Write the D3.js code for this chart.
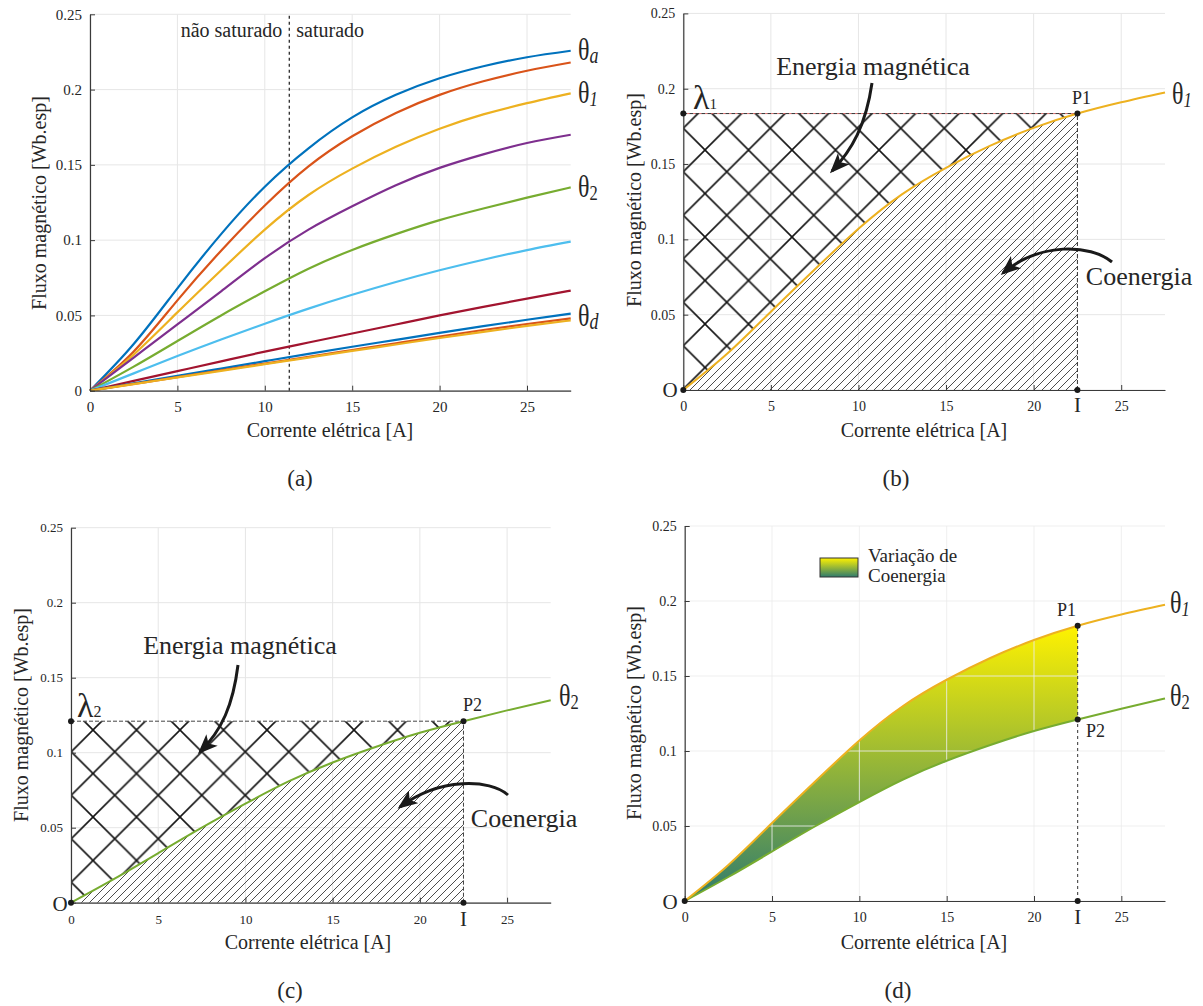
<!DOCTYPE html>
<html>
<head>
<meta charset="utf-8">
<script src="https://cdn.jsdelivr.net/npm/d3@7"></script>
<style>
  body { margin: 0; background: #fff; }
  svg, text { font-family: "Liberation Serif", "DejaVu Serif", "Noto Serif", Times, serif; }
  text { fill: #262626; }
</style>
</head>
<body>
<div id="chart"></div>
<script>
// current [A] where flux values were read
const current = [0, 2.5, 5, 7.5, 10, 12.5, 15, 17.5, 20, 22.5, 25, 27.5];

// flux curves [Wb.esp], one per rotor position (a)
const fluxThetaA  = [0, 0.031, 0.068, 0.104, 0.1355, 0.161, 0.1815, 0.1965, 0.2075, 0.2155, 0.2215, 0.2258];
const fluxOrange  = [0, 0.026, 0.060, 0.093, 0.123, 0.149, 0.169, 0.1845, 0.1965, 0.2055, 0.2125, 0.218];
const fluxTheta1  = [0, 0.024, 0.052, 0.080, 0.107, 0.130, 0.1475, 0.162, 0.174, 0.1835, 0.191, 0.1975];
const fluxPurple  = [0, 0.022, 0.044, 0.066, 0.088, 0.107, 0.1225, 0.1365, 0.148, 0.157, 0.1645, 0.170];
const fluxTheta2  = [0, 0.016, 0.033, 0.050, 0.066, 0.081, 0.0935, 0.104, 0.1133, 0.121, 0.1282, 0.135];
const fluxCyan    = [0, 0.0115, 0.023, 0.034, 0.0445, 0.0545, 0.0637, 0.0722, 0.080, 0.087, 0.0934, 0.099];
const fluxDarkRed = [0, 0.0065, 0.013, 0.0195, 0.026, 0.032, 0.038, 0.044, 0.050, 0.0557, 0.0612, 0.0665];
const fluxBlue2   = [0, 0.0049, 0.0098, 0.0147, 0.0196, 0.0245, 0.0292, 0.0338, 0.0384, 0.0429, 0.0471, 0.0512];
const fluxOrange2 = [0, 0.0045, 0.009, 0.0136, 0.018, 0.0225, 0.027, 0.0315, 0.036, 0.0403, 0.0443, 0.048];
const fluxThetaD  = [0, 0.0044, 0.0088, 0.0132, 0.0176, 0.022, 0.0264, 0.0307, 0.035, 0.0391, 0.043, 0.0467];

const seriesA = [fluxThetaA, fluxOrange, fluxTheta1, fluxPurple, fluxTheta2, fluxCyan, fluxDarkRed, fluxBlue2, fluxOrange2, fluxThetaD];
const colorsA = ["#0072BD", "#D95319", "#EDB120", "#7E2F8E", "#77AC30", "#4DBEEE", "#A2142F", "#0072BD", "#D95319", "#EDB120"];

const xTicks = [0, 5, 10, 15, 20, 25];
const yTicks = [0, 0.05, 0.1, 0.15, 0.2, 0.25];
const xMax = 27.5, yMax = 0.25;
const satLimit = 11.4;       // saturation boundary (a)
const iOp = 22.5;            // operating current I
const iIdx = current.indexOf(iOp);
const lambda1 = fluxTheta1[iIdx];
const lambda2 = fluxTheta2[iIdx];

const SERIF = '"Liberation Serif", "DejaVu Serif", "Noto Serif", Times, serif';

const svg = d3.select("#chart").append("svg")
  .attr("width", 1203).attr("height", 1006).attr("font-family", SERIF);
const defs = svg.append("defs");

// arrow head
defs.append("marker").attr("id", "arrowhead")
  .attr("viewBox", "0 0 20 16").attr("refX", 17).attr("refY", 8)
  .attr("markerWidth", 20).attr("markerHeight", 16)
  .attr("markerUnits", "userSpaceOnUse").attr("orient", "auto")
  .append("path").attr("d", "M0,0 L20,8 L0,16 L5,8 Z").attr("fill", "#1a1a1a");

function crossPattern(id, ox, oy) {
  const S = 43.5;
  const p = defs.append("pattern").attr("id", id).attr("patternUnits", "userSpaceOnUse")
    .attr("width", S).attr("height", S).attr("x", ox).attr("y", oy);
  let d = "";
  for (const k of [-1, 0, 1]) {
    d += `M-2,${-2 + k * S}L${S + 2},${S + 2 + k * S}`;
    d += `M-2,${S + 2 + k * S}L${S + 2},${-2 + k * S}`;
  }
  p.append("path").attr("d", d).attr("stroke", "#151515").attr("stroke-width", 1.6).attr("fill", "none");
}
function diagPattern(id) {
  const S = 8;
  const p = defs.append("pattern").attr("id", id).attr("patternUnits", "userSpaceOnUse")
    .attr("width", S).attr("height", S);
  let d = "";
  for (const k of [-1, 0, 1]) d += `M-1,${S + 1 + k * S}L${S + 1},${-1 + k * S}`;
  p.append("path").attr("d", d).attr("stroke", "#4d4d4d").attr("stroke-width", 1).attr("fill", "none");
}
crossPattern("crossB", 705, 106.5);
crossPattern("crossC", 93, 730);
diagPattern("diag");

// gradient for coenergy variation
const grad = defs.append("linearGradient").attr("id", "gradD")
  .attr("gradientUnits", "userSpaceOnUse").attr("x1", 0).attr("x2", 0);
grad.append("stop").attr("offset", 0).attr("stop-color", "#fff200");
grad.append("stop").attr("offset", 1).attr("stop-color", "#2e7b6e");
const gradLeg = defs.append("linearGradient").attr("id", "gradLeg")
  .attr("x1", 0).attr("x2", 0).attr("y1", 0).attr("y2", 1);
gradLeg.append("stop").attr("offset", 0).attr("stop-color", "#fff200");
gradLeg.append("stop").attr("offset", 1).attr("stop-color", "#2e7b6e");

function makePanel(box) {
  const x = d3.scaleLinear().domain([0, xMax]).range([box.x0, box.x1]);
  const y = d3.scaleLinear().domain([0, yMax]).range([box.yb, box.yt]);
  const g = svg.append("g");
  return { g, x, y, box };
}

function drawGrid(p) {
  const grid = p.g.append("g").attr("stroke", "#e6e6e6").attr("stroke-width", 1);
  grid.selectAll("line.v").data(xTicks).join("line").attr("class", "v")
    .attr("x1", p.x).attr("x2", p.x).attr("y1", p.y(0)).attr("y2", p.y(yMax));
  grid.selectAll("line.h").data(yTicks).join("line").attr("class", "h")
    .attr("x1", p.x(0)).attr("x2", p.x(xMax)).attr("y1", p.y).attr("y2", p.y);
  return grid;
}

function drawAxes(p, fs, hideYZero) {
  const xa = p.g.append("g").attr("transform", `translate(0,${p.y(0)})`)
    .call(d3.axisBottom(p.x).tickValues(xTicks).tickSize(-5).tickSizeOuter(0).tickPadding(21 - 0.71 * fs));
  const ya = p.g.append("g").attr("transform", `translate(${p.x(0)},0)`)
    .call(d3.axisLeft(p.y).tickValues(yTicks)
      .tickFormat(d => (hideYZero && d === 0) ? "" : String(d))
      .tickSize(-5).tickSizeOuter(0).tickPadding(8));
  for (const a of [xa, ya]) {
    a.attr("font-family", SERIF).attr("font-size", fs);
    a.select(".domain").attr("stroke", "#3a3a3a").attr("stroke-width", 1.2);
    a.selectAll(".tick line").attr("stroke", "#3a3a3a");
    a.selectAll(".tick text").attr("fill", "#262626");
  }
}

function axisTitles(p, xl, yl) {
  p.g.append("text").attr("x", xl[0]).attr("y", xl[1]).attr("text-anchor", "middle")
    .attr("font-size", 20).text("Corrente elétrica [A]");
  p.g.append("text").attr("transform", `translate(${yl[0]},${yl[1]}) rotate(-90)`)
    .attr("text-anchor", "middle").attr("font-size", 20).text("Fluxo magnético [Wb.esp]");
}

function greek(g, x, y, glyph, sub, size, subSize, italic, sx, dy) {
  const t = g.append("text").attr("transform", `translate(${x},${y}) scale(${sx},1)`)
    .attr("font-size", size).attr("fill", "#111");
  t.append("tspan").text(glyph);
  t.append("tspan").attr("font-size", subSize).attr("dy", dy)
    .attr("font-style", italic ? "italic" : "normal").text(sub);
}

function plainText(g, x, y, txt, size, anchor) {
  g.append("text").attr("x", x).attr("y", y).attr("font-size", size)
    .attr("text-anchor", anchor || "start").attr("fill", "#262626").text(txt);
}

function dot(p, cx, cy) {
  p.g.append("circle").attr("cx", p.x(cx)).attr("cy", p.y(cy)).attr("r", 3).attr("fill", "#1a1a1a");
}

function arrow(g, d) {
  g.append("path").attr("d", d).attr("fill", "none").attr("stroke", "#1a1a1a")
    .attr("stroke-width", 3).attr("marker-end", "url(#arrowhead)");
}

const curveType = d3.curveNatural;
function lineGen(p) {
  return d3.line().x((d, i) => p.x(current[i])).y(d => p.y(d)).curve(curveType);
}

function subLabel(x, y, t) {
  svg.append("text").attr("x", x).attr("y", y).attr("text-anchor", "middle")
    .attr("font-size", 23).attr("fill", "#111").text(t);
}

// ---------- (a) ----------
const pa = makePanel({ x0: 90, x1: 570.7, yb: 390.7, yt: 14.3 });
drawGrid(pa);
pa.g.append("line").attr("x1", pa.x(satLimit)).attr("x2", pa.x(satLimit))
  .attr("y1", pa.y(0)).attr("y2", pa.y(yMax))
  .attr("stroke", "#1a1a1a").attr("stroke-width", 1.2).attr("stroke-dasharray", "3,3");
plainText(pa.g, pa.x(satLimit) - 7, 37, "não saturado", 20, "end");
plainText(pa.g, pa.x(satLimit) + 7, 37, "saturado", 20, "start");
const lnA = lineGen(pa);
pa.g.selectAll("path.curve").data(seriesA).join("path").attr("class", "curve")
  .attr("d", lnA).attr("fill", "none").attr("stroke", (d, i) => colorsA[i]).attr("stroke-width", 2.2);
drawAxes(pa, 15, false);
axisTitles(pa, [330, 437], [46, 203]);
greek(pa.g, 578, 60, "θ", "a", 32, 24, true, 0.75, 3);
greek(pa.g, 578, 103, "θ", "1", 32, 22, true, 0.75, 3);
greek(pa.g, 578, 197, "θ", "2", 32, 22, false, 0.75, 3);
greek(pa.g, 578, 326, "θ", "d", 32, 24, true, 0.75, 3);
subLabel(300, 486, "(a)");

// ---------- (b) ----------
const pb = makePanel({ x0: 683.3, x1: 1165, yb: 390, yt: 13.4 });
drawGrid(pb);
defs.append("clipPath").attr("id", "clipB").append("rect")
  .attr("x", pb.x(0)).attr("y", pb.y(yMax)).attr("width", pb.x(iOp) - pb.x(0)).attr("height", pb.y(0) - pb.y(yMax));
const areaBelowB = d3.area().x((d, i) => pb.x(current[i])).y0(pb.y(0)).y1(d => pb.y(d)).curve(curveType);
const areaAboveB = d3.area().x((d, i) => pb.x(current[i])).y0(d => pb.y(d)).y1(pb.y(lambda1)).curve(curveType);
pb.g.append("path").attr("d", areaBelowB(fluxTheta1)).attr("fill", "url(#diag)").attr("clip-path", "url(#clipB)");
pb.g.append("path").attr("d", areaAboveB(fluxTheta1)).attr("fill", "url(#crossB)").attr("clip-path", "url(#clipB)");
pb.g.append("line").attr("x1", pb.x(0)).attr("x2", pb.x(iOp)).attr("y1", pb.y(lambda1)).attr("y2", pb.y(lambda1))
  .attr("stroke", "#333").attr("stroke-width", 1).attr("stroke-dasharray", "4,2");
pb.g.append("line").attr("x1", pb.x(0)).attr("x2", pb.x(iOp)).attr("y1", pb.y(lambda1)).attr("y2", pb.y(lambda1))
  .attr("stroke", "#e04545").attr("stroke-width", 0.8).attr("stroke-dasharray", "2,4").attr("stroke-dashoffset", -4);
pb.g.append("line").attr("x1", pb.x(iOp)).attr("x2", pb.x(iOp)).attr("y1", pb.y(0)).attr("y2", pb.y(lambda1))
  .attr("stroke", "#333").attr("stroke-width", 1).attr("stroke-dasharray", "4,2");
pb.g.append("path").attr("d", lineGen(pb)(fluxTheta1)).attr("fill", "none").attr("stroke", "#EDB120").attr("stroke-width", 2);
drawAxes(pb, 14, true);
axisTitles(pb, [924, 437], [641, 200]);
dot(pb, 0, 0); dot(pb, 0, lambda1); dot(pb, iOp, lambda1); dot(pb, iOp, 0);
greek(pb.g, 693, 109, "λ", "1", 34, 15, false, 1, 0);
greek(pb.g, 1172, 104, "θ", "1", 32, 22, true, 0.75, 3);
plainText(pb.g, 1072, 104, "P1", 18);
plainText(pb.g, 670, 397, "O", 21, "middle");
plainText(pb.g, pb.x(iOp), 412, "I", 21, "middle");
plainText(pb.g, 873, 75, "Energia magnética", 26, "middle");
arrow(pb.g, "M872,83 C866,125 852,150 832,171");
plainText(pb.g, 1139, 285, "Coenergia", 26, "middle");
arrow(pb.g, "M1112,262 C1090,244 1040,242 1003,273");
subLabel(896, 486, "(b)");

// ---------- (c) ----------
const pc = makePanel({ x0: 71, x1: 550.7, yb: 902.7, yt: 527.7 });
drawGrid(pc);
defs.append("clipPath").attr("id", "clipC").append("rect")
  .attr("x", pc.x(0)).attr("y", pc.y(yMax)).attr("width", pc.x(iOp) - pc.x(0)).attr("height", pc.y(0) - pc.y(yMax));
const areaBelowC = d3.area().x((d, i) => pc.x(current[i])).y0(pc.y(0)).y1(d => pc.y(d)).curve(curveType);
const areaAboveC = d3.area().x((d, i) => pc.x(current[i])).y0(d => pc.y(d)).y1(pc.y(lambda2)).curve(curveType);
pc.g.append("path").attr("d", areaBelowC(fluxTheta2)).attr("fill", "url(#diag)").attr("clip-path", "url(#clipC)");
pc.g.append("path").attr("d", areaAboveC(fluxTheta2)).attr("fill", "url(#crossC)").attr("clip-path", "url(#clipC)");
pc.g.append("line").attr("x1", pc.x(0)).attr("x2", pc.x(iOp)).attr("y1", pc.y(lambda2)).attr("y2", pc.y(lambda2))
  .attr("stroke", "#444").attr("stroke-width", 1).attr("stroke-dasharray", "4,2");
pc.g.append("line").attr("x1", pc.x(iOp)).attr("x2", pc.x(iOp)).attr("y1", pc.y(0)).attr("y2", pc.y(lambda2))
  .attr("stroke", "#444").attr("stroke-width", 1).attr("stroke-dasharray", "4,2");
pc.g.append("path").attr("d", lineGen(pc)(fluxTheta2)).attr("fill", "none").attr("stroke", "#77AC30").attr("stroke-width", 2);
drawAxes(pc, 13, true);
axisTitles(pc, [308, 949], [28, 715]);
dot(pc, 0, 0); dot(pc, 0, lambda2); dot(pc, iOp, lambda2); dot(pc, iOp, 0);
greek(pc.g, 77, 717, "λ", "2", 34, 16, false, 1, 0);
greek(pc.g, 559, 706, "θ", "2", 32, 22, false, 0.75, 3);
plainText(pc.g, 463, 711, "P2", 18);
plainText(pc.g, 60, 911, "O", 21, "middle");
plainText(pc.g, pc.x(iOp), 926, "I", 21, "middle");
plainText(pc.g, 240, 654, "Energia magnética", 26, "middle");
arrow(pc.g, "M238,665 C233,705 222,730 200,752");
plainText(pc.g, 524, 827, "Coenergia", 26, "middle");
arrow(pc.g, "M508,795 C490,779 440,777 400,807");
subLabel(290, 998, "(c)");

// ---------- (d) ----------
const pd = makePanel({ x0: 684.7, x1: 1165, yb: 901, yt: 526 });
grad.attr("y1", pd.y(lambda1)).attr("y2", pd.y(0));
defs.append("clipPath").attr("id", "clipD").append("rect")
  .attr("x", pd.x(0)).attr("y", pd.y(yMax)).attr("width", pd.x(iOp) - pd.x(0)).attr("height", pd.y(0) - pd.y(yMax));
const bandD = d3.area().x((d, i) => pd.x(current[i])).y0((d, i) => pd.y(fluxTheta2[i])).y1(d => pd.y(d)).curve(curveType);
pd.g.append("path").attr("d", bandD(fluxTheta1)).attr("fill", "url(#gradD)").attr("clip-path", "url(#clipD)");
drawGrid(pd).attr("stroke", "#ececec").attr("stroke-opacity", 0.85);
pd.g.append("line").attr("x1", pd.x(iOp)).attr("x2", pd.x(iOp)).attr("y1", pd.y(0)).attr("y2", pd.y(lambda1))
  .attr("stroke", "#333").attr("stroke-width", 1).attr("stroke-dasharray", "3,3");
pd.g.append("path").attr("d", lineGen(pd)(fluxTheta2)).attr("fill", "none").attr("stroke", "#77AC30").attr("stroke-width", 2);
pd.g.append("path").attr("d", lineGen(pd)(fluxTheta1)).attr("fill", "none").attr("stroke", "#EDB120").attr("stroke-width", 2);
drawAxes(pd, 14, true);
axisTitles(pd, [924, 949], [641, 713]);
dot(pd, 0, 0); dot(pd, iOp, lambda1); dot(pd, iOp, lambda2); dot(pd, iOp, 0);
greek(pd.g, 1170, 613, "θ", "1", 32, 22, true, 0.75, 3);
greek(pd.g, 1170, 706, "θ", "2", 32, 22, false, 0.75, 3);
plainText(pd.g, 1057, 616, "P1", 18);
plainText(pd.g, 1086, 737, "P2", 18);
plainText(pd.g, 670, 909, "O", 21, "middle");
plainText(pd.g, pd.x(iOp), 924, "I", 21, "middle");
pd.g.append("rect").attr("x", 820).attr("y", 558).attr("width", 38).attr("height", 19)
  .attr("fill", "url(#gradLeg)").attr("stroke", "#333").attr("stroke-width", 1);
plainText(pd.g, 868, 562, "Variação de", 19);
plainText(pd.g, 868, 582, "Coenergia", 19);
subLabel(898, 998, "(d)");
</script>
</body>
</html>
